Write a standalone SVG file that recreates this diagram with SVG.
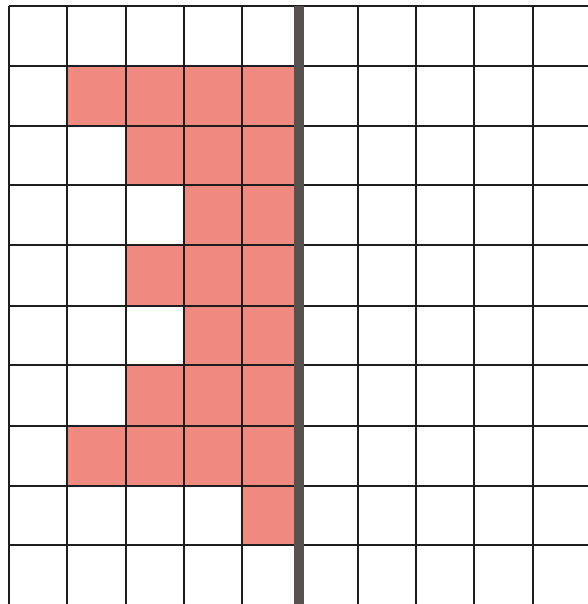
<svg xmlns="http://www.w3.org/2000/svg" width="588" height="604" viewBox="0 0 588 604">
<style>
.c{fill:#f08a80}
.g{stroke:#1e1e1e;stroke-width:2;fill:none}
</style>
<rect width="588" height="604" fill="#ffffff"/>
<g id="cells">
<rect class="c" x="67" y="66" width="59" height="60"/>
<rect class="c" x="126" y="66" width="58" height="60"/>
<rect class="c" x="184" y="66" width="58" height="60"/>
<rect class="c" x="242" y="66" width="52" height="60"/>
<rect class="c" x="126" y="126" width="58" height="59"/>
<rect class="c" x="184" y="126" width="58" height="59"/>
<rect class="c" x="242" y="126" width="52" height="59"/>
<rect class="c" x="184" y="185" width="58" height="60"/>
<rect class="c" x="242" y="185" width="52" height="60"/>
<rect class="c" x="126" y="245" width="58" height="61"/>
<rect class="c" x="184" y="245" width="58" height="61"/>
<rect class="c" x="242" y="245" width="52" height="61"/>
<rect class="c" x="184" y="306" width="58" height="59"/>
<rect class="c" x="242" y="306" width="52" height="59"/>
<rect class="c" x="126" y="365" width="58" height="61"/>
<rect class="c" x="184" y="365" width="58" height="61"/>
<rect class="c" x="242" y="365" width="52" height="61"/>
<rect class="c" x="67" y="426" width="59" height="60"/>
<rect class="c" x="126" y="426" width="58" height="60"/>
<rect class="c" x="184" y="426" width="58" height="60"/>
<rect class="c" x="242" y="426" width="52" height="60"/>
<rect class="c" x="242" y="486" width="52" height="59"/>
</g>
<g id="grid" class="g">
<line x1="9" y1="6" x2="588" y2="6"/>
<line x1="9" y1="66" x2="588" y2="66"/>
<line x1="9" y1="126" x2="588" y2="126"/>
<line x1="9" y1="185" x2="588" y2="185"/>
<line x1="9" y1="245" x2="588" y2="245"/>
<line x1="9" y1="306" x2="588" y2="306"/>
<line x1="9" y1="365" x2="588" y2="365"/>
<line x1="9" y1="426" x2="588" y2="426"/>
<line x1="9" y1="486" x2="588" y2="486"/>
<line x1="9" y1="545" x2="588" y2="545"/>
<line x1="9" y1="6" x2="9" y2="604"/>
<line x1="67" y1="6" x2="67" y2="604"/>
<line x1="126" y1="6" x2="126" y2="604"/>
<line x1="184" y1="6" x2="184" y2="604"/>
<line x1="242" y1="6" x2="242" y2="604"/>
<line x1="358" y1="6" x2="358" y2="604"/>
<line x1="416" y1="6" x2="416" y2="604"/>
<line x1="474" y1="6" x2="474" y2="604"/>
<line x1="533" y1="6" x2="533" y2="604"/>
</g>
<rect id="divider" x="294" y="6" width="10" height="598" fill="#575250"/>
</svg>
